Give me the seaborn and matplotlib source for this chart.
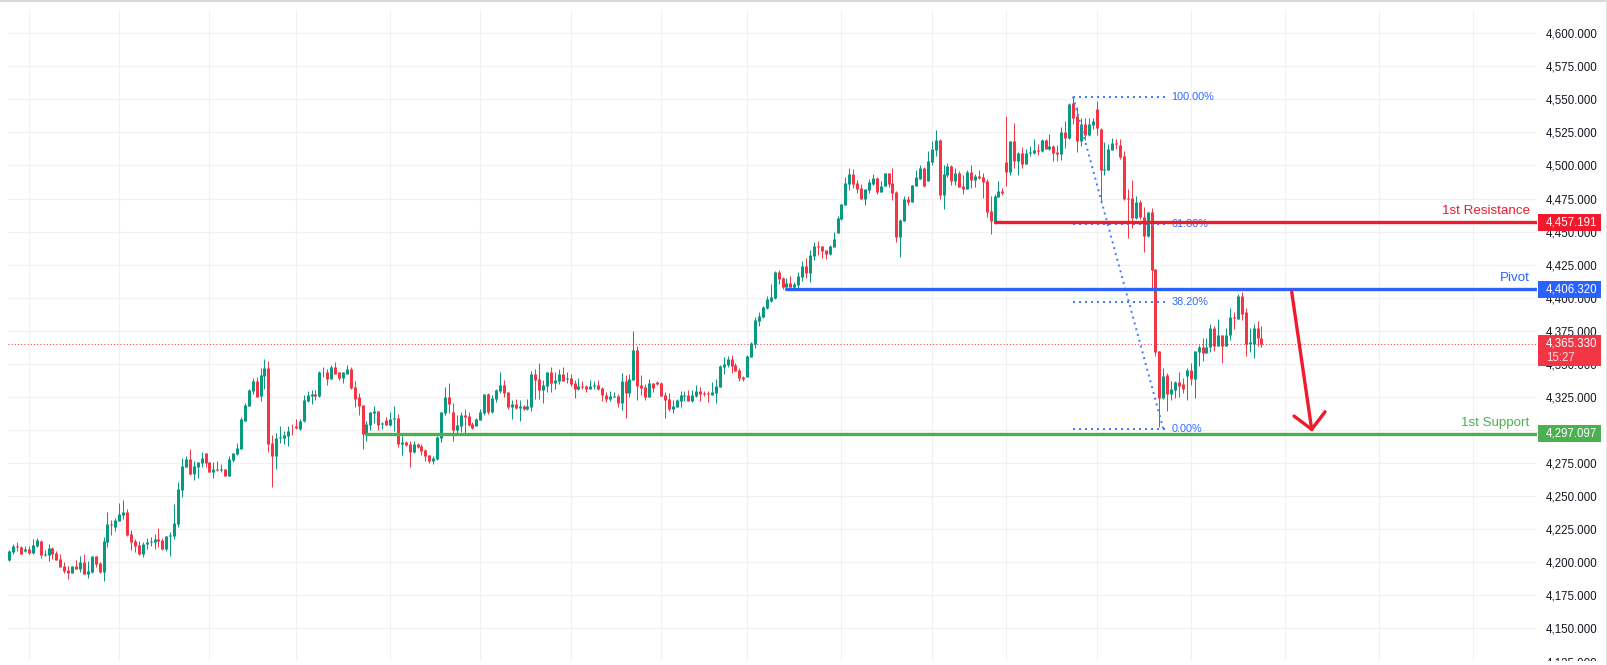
import matplotlib
matplotlib.use("Agg")
import matplotlib.pyplot as plt
import pandas as pd
import seaborn as sns
from matplotlib.patches import Rectangle
from matplotlib.ticker import FuncFormatter

sns.set_theme(style="white")
plt.rcParams["font.family"] = ["Liberation Sans", "DejaVu Sans"]

# ── Candles (G = up, R = down) ─────────────────────────────────────────────
directions = (
    "GGRRGRGGRG" "GRRRRRGRGR" "GGRRGGRGGG" "RRRRGGGGRR" "GGGGGGRGGG" "RRGRGRGGGG" "GGGRGGRRGG" "GGRRGGGGRG"
    "RRGRRGGRRR" "RGGGRGRGGR" "GRRGRRRRGG" "GGRRGGRRRG" "GGRGGGRRGR" "GRGGRRGGRG" "GRGRRGRRGG" "RRRGGRGRGG"
    "RRRGRRRRRG" "GGGRGGRRRG" "GGGGRRRRGG" "GGGGGGRRGR" "GGGRGGRRRG" "GGGGGRRRGG" "GRGGRRRGGR" "GGGRGGGRGG"
    "RGRRGRGRRR" "RGGRRGRGRG" "GGRGRGRRGR" "GRRGRGGRRG" "GGRRRRRGRR" "GRRRGRGGRR" "GRGGRGGRGR" "GGRGRRGGRR"
)

highs = [
    4209.5,4214.0,4215.5,4212.5,4212.5,4212.5,4217.8,4218.6,4217.0,4209.5,
    4214.0,4211.8,4208.7,4206.5,4200.4,4197.4,4197.4,4201.9,4205.0,4206.5,
    4201.2,4205.0,4205.0,4200.4,4219.3,4238.3,4232.2,4233.7,4245.1,4247.4,
    4240.5,4224.6,4217.8,4216.3,4215.5,4218.6,4219.3,4221.6,4226.1,4218.6,
    4220.1,4223.1,4244.3,4261.0,4279.2,4280.7,4286.0,4276.9,4276.1,4283.7,
    4283.0,4276.1,4276.1,4276.9,4274.6,4270.8,4280.7,4283.0,4290.5,4309.5,
    4320.1,4331.4,4339.0,4339.8,4346.6,4353.4,4351.9,4296.6,4298.1,4303.4,
    4299.6,4302.7,4304.2,4308.7,4308.0,4326.8,4329.8,4330.6,4330.6,4345.0,
    4348.0,4345.8,4349.5,4351.1,4344.2,4344.2,4349.5,4347.3,4337.4,4328.3,
    4319.2,4307.1,4313.9,4318.5,4314.7,4306.4,4310.1,4313.9,4318.5,4312.4,
    4295.8,4292.0,4292.0,4292.0,4290.5,4289.7,4285.9,4281.4,4280.6,4295.8,
    4313.9,4332.9,4335.9,4320.8,4311.7,4313.9,4316.2,4313.9,4306.4,4309.4,
    4316.2,4327.6,4328.3,4326.8,4331.4,4343.5,4338.2,4329.1,4323.0,4323.8,
    4323.0,4319.2,4323.8,4345.0,4346.5,4350.3,4338.2,4343.5,4347.3,4343.5,
    4346.5,4347.3,4343.5,4342.7,4338.2,4339.7,4337.4,4334.4,4338.2,4336.7,
    4338.2,4332.3,4328.6,4329.3,4328.6,4327.0,4342.9,4341.4,4342.2,4374.8,
    4363.4,4341.4,4334.6,4338.4,4335.4,4336.9,4336.1,4328.6,4327.8,4322.5,
    4323.3,4329.3,4329.3,4330.1,4330.1,4333.9,4332.3,4329.3,4329.3,4336.1,
    4338.4,4349.0,4355.1,4355.8,4356.6,4350.5,4346.7,4340.7,4356.6,4366.4,
    4385.4,4389.2,4393.7,4401.3,4410.4,4420.2,4421.0,4415.7,4414.9,4416.4,
    4411.9,4419.5,4427.8,4430.1,4436.1,4442.2,4442.9,4439.2,4436.1,4439.9,
    4449.8,4461.9,4471.0,4491.4,4498.2,4497.5,4489.2,4486.1,4482.3,4489.9,
    4493.7,4491.4,4488.4,4494.5,4494.5,4498.2,4480.8,4459.6,4477.0,4477.0,
    4485.4,4496.7,4500.5,4498.7,4510.8,4518.4,4526.7,4519.9,4500.2,4501.7,
    4500.2,4497.9,4495.7,4492.6,4496.4,4500.2,4493.4,4496.4,4494.2,4489.6,
    4476.7,4478.2,4488.1,4482.8,4537.3,4518.4,4532.0,4510.1,4513.8,4512.3,
    4514.6,4519.9,4516.1,4519.9,4519.9,4523.7,4515.4,4515.4,4529.1,4533.6,
    4547.3,4551.8,4544.2,4535.9,4535.9,4535.9,4535.9,4548.8,4528.3,4517.7,
    4516.2,4520.8,4520.0,4520.0,4510.9,4482.1,4488.9,4476.8,4473.8,4468.7,
    4465.1,4467.7,4421.5,4360.1,4347.2,4343.4,4337.4,4337.4,4344.2,4339.6,
    4347.2,4351.0,4360.1,4364.6,4369.2,4369.2,4379.8,4378.3,4383.6,4372.2,
    4377.5,4391.9,4389.6,4402.5,4404.0,4391.9,4377.5,4379.8,4382.1,4379.0,
]

body_tops = [
    4208.7,4212.5,4212.5,4211.8,4210.2,4210.2,4213.3,4217.0,4216.3,4206.5,
    4211.0,4211.0,4207.2,4202.7,4197.4,4194.3,4197.4,4197.4,4200.4,4200.4,
    4193.6,4205.0,4205.0,4199.6,4216.3,4229.2,4229.2,4232.2,4236.8,4238.3,
    4238.3,4221.6,4216.3,4213.3,4214.0,4215.5,4216.3,4217.8,4217.8,4217.0,
    4220.1,4220.8,4229.9,4255.7,4273.1,4278.4,4278.4,4273.1,4276.1,4279.2,
    4283.0,4276.1,4270.8,4270.8,4270.8,4270.8,4278.4,4283.0,4286.7,4308.0,
    4318.6,4329.9,4336.7,4336.7,4341.3,4346.6,4346.6,4290.5,4294.3,4295.1,
    4296.6,4298.9,4299.6,4302.7,4307.2,4323.0,4326.8,4327.6,4327.6,4344.2,
    4344.2,4344.2,4347.3,4347.3,4343.5,4343.5,4346.5,4346.5,4332.9,4324.6,
    4319.2,4304.8,4313.9,4314.7,4314.7,4305.6,4307.9,4308.6,4309.4,4309.4,
    4291.2,4291.2,4289.7,4289.7,4289.7,4288.2,4285.2,4281.4,4279.1,4295.0,
    4313.9,4325.3,4325.3,4313.9,4304.1,4311.7,4311.7,4310.9,4304.8,4308.6,
    4313.9,4327.6,4327.6,4324.5,4330.6,4334.4,4334.4,4329.1,4320.0,4320.0,
    4318.5,4318.5,4318.5,4342.7,4342.7,4338.9,4334.4,4343.5,4343.5,4338.2,
    4342.0,4342.0,4339.7,4339.7,4335.9,4333.6,4333.6,4333.6,4333.6,4334.4,
    4334.4,4331.6,4326.3,4325.5,4325.5,4325.5,4336.9,4336.9,4338.4,4360.4,
    4360.4,4333.9,4332.3,4335.4,4335.4,4336.1,4335.4,4326.3,4323.3,4317.9,
    4322.5,4326.3,4326.3,4326.3,4326.3,4329.3,4329.3,4327.8,4327.8,4328.6,
    4333.1,4348.2,4349.8,4353.6,4353.6,4349.0,4345.2,4339.9,4355.8,4365.7,
    4383.1,4386.1,4393.0,4399.0,4400.5,4419.5,4419.5,4414.9,4411.1,4411.1,
    4410.4,4416.4,4424.0,4424.0,4432.3,4439.2,4439.2,4439.2,4436.1,4439.2,
    4444.5,4460.4,4471.0,4486.9,4493.7,4493.7,4486.9,4483.1,4482.3,4487.6,
    4490.7,4490.7,4484.6,4494.5,4494.5,4486.9,4480.1,4458.9,4474.8,4474.8,
    4485.4,4491.4,4498.2,4497.9,4503.2,4512.3,4519.2,4519.2,4493.4,4499.5,
    4499.5,4494.2,4494.2,4484.3,4494.9,4494.9,4491.9,4491.9,4491.1,4488.1,
    4465.4,4476.7,4480.5,4480.5,4502.5,4518.4,4518.4,4509.3,4509.3,4509.3,
    4510.1,4511.6,4511.6,4519.2,4519.2,4514.6,4514.6,4510.1,4525.3,4525.3,
    4546.5,4547.3,4537.4,4531.4,4531.4,4531.4,4533.6,4542.7,4527.6,4497.3,
    4512.4,4517.0,4517.0,4515.5,4507.1,4475.3,4475.3,4472.3,4472.3,4461.1,
    4464.6,4464.6,4421.5,4360.1,4341.2,4341.9,4331.3,4336.6,4336.6,4335.1,
    4345.7,4345.7,4360.1,4362.4,4362.4,4363.1,4377.5,4377.5,4372.2,4372.2,
    4372.2,4385.1,4385.1,4401.0,4401.0,4388.9,4366.2,4377.5,4377.5,4369.9,
]

body_bottoms = [
    4201.9,4208.0,4211.8,4206.5,4208.7,4207.2,4207.2,4212.5,4205.7,4205.7,
    4205.7,4206.5,4201.9,4196.6,4193.6,4192.1,4192.1,4195.1,4195.1,4191.3,
    4191.3,4192.8,4198.9,4192.8,4192.8,4215.5,4228.4,4226.9,4231.4,4236.0,
    4220.8,4215.5,4212.5,4206.5,4206.5,4214.0,4215.5,4215.5,4216.3,4210.2,
    4210.2,4220.1,4220.1,4229.2,4254.9,4272.4,4267.0,4267.0,4272.4,4275.4,
    4275.4,4268.6,4268.6,4270.1,4270.1,4265.5,4265.5,4277.7,4282.2,4286.0,
    4307.2,4317.8,4329.2,4324.6,4325.4,4340.5,4289.8,4280.7,4280.7,4294.3,
    4294.3,4295.8,4298.9,4301.9,4301.1,4307.1,4322.3,4326.1,4326.1,4326.1,
    4343.5,4338.9,4338.9,4342.7,4339.7,4339.7,4342.7,4332.1,4323.8,4318.5,
    4297.3,4297.3,4304.1,4313.2,4304.1,4304.8,4304.1,4304.1,4308.6,4289.7,
    4289.7,4289.0,4283.6,4283.6,4287.4,4284.4,4280.6,4276.8,4276.8,4278.3,
    4294.2,4313.2,4320.0,4300.3,4300.3,4303.3,4310.1,4304.1,4301.8,4303.3,
    4307.9,4313.2,4313.9,4313.9,4323.8,4329.8,4328.3,4317.7,4317.7,4317.0,
    4317.0,4316.2,4316.2,4317.7,4338.2,4330.6,4330.6,4333.6,4335.9,4335.9,
    4337.4,4337.4,4338.9,4335.1,4331.4,4331.4,4332.9,4331.4,4331.4,4333.6,
    4331.4,4326.3,4323.3,4323.3,4324.8,4320.2,4320.2,4327.8,4327.8,4337.6,
    4333.1,4331.6,4324.8,4324.8,4331.6,4334.6,4325.5,4322.5,4315.7,4315.7,
    4317.2,4321.7,4325.5,4321.7,4321.7,4325.5,4327.0,4327.0,4327.0,4326.3,
    4327.8,4332.3,4347.5,4349.0,4348.2,4344.5,4339.2,4338.4,4339.9,4355.1,
    4364.9,4382.3,4385.4,4392.2,4397.5,4399.8,4414.2,4408.1,4408.1,4408.1,
    4408.1,4409.6,4415.7,4418.7,4418.7,4431.6,4438.4,4435.4,4433.1,4433.1,
    4438.4,4449.0,4459.6,4470.2,4486.1,4486.1,4482.3,4474.8,4474.8,4481.6,
    4486.1,4480.1,4480.1,4484.6,4486.1,4479.3,4446.0,4446.0,4458.1,4472.5,
    4472.5,4484.6,4489.9,4484.3,4488.1,4502.5,4511.6,4477.5,4477.5,4492.6,
    4488.1,4488.1,4483.5,4482.0,4482.0,4488.9,4488.9,4490.4,4487.3,4464.6,
    4457.8,4456.3,4476.0,4479.0,4494.9,4494.9,4503.2,4503.2,4501.0,4501.0,
    4509.3,4509.3,4510.8,4510.8,4512.3,4512.3,4509.3,4508.5,4508.6,4520.8,
    4520.8,4535.9,4518.5,4518.5,4523.0,4523.0,4530.6,4528.3,4496.5,4496.5,
    4496.5,4511.7,4516.2,4506.4,4474.5,4474.5,4460.2,4460.2,4460.9,4447.0,
    4446.5,4420.7,4359.3,4324.5,4324.5,4327.5,4327.5,4330.6,4333.6,4331.3,
    4341.2,4338.9,4338.9,4359.3,4358.6,4358.6,4363.1,4363.9,4363.9,4363.9,
    4363.9,4371.5,4384.8,4383.6,4387.4,4365.4,4365.4,4365.4,4369.2,4365.4,
]

lows = [
    4201.2,4206.5,4208.7,4206.5,4208.0,4206.5,4206.5,4211.8,4203.4,4205.0,
    4201.2,4202.7,4201.9,4196.6,4192.1,4187.5,4192.1,4195.1,4192.8,4191.3,
    4188.3,4192.1,4196.6,4192.1,4186.0,4211.8,4220.8,4223.9,4231.4,4233.0,
    4220.1,4209.5,4208.0,4205.7,4204.2,4210.2,4212.5,4210.2,4211.8,4209.5,
    4208.7,4205.0,4217.8,4226.9,4249.6,4272.4,4266.3,4262.5,4264.0,4272.4,
    4272.4,4268.6,4264.0,4269.3,4268.6,4265.5,4265.5,4276.1,4281.4,4286.0,
    4307.2,4317.8,4326.9,4324.6,4321.6,4330.7,4283.7,4257.2,4270.8,4290.5,
    4289.8,4288.3,4296.6,4301.1,4300.4,4306.4,4321.5,4320.0,4323.0,4325.3,
    4340.4,4334.4,4338.9,4342.7,4338.2,4335.9,4342.7,4331.4,4317.7,4311.7,
    4285.9,4292.0,4300.3,4305.6,4300.3,4301.1,4304.1,4303.3,4299.5,4287.4,
    4281.4,4288.2,4272.3,4282.9,4286.7,4281.4,4276.8,4275.3,4274.5,4277.6,
    4291.2,4311.7,4313.2,4292.0,4298.0,4298.8,4297.3,4303.3,4301.1,4303.3,
    4307.9,4311.7,4312.4,4313.2,4321.5,4328.3,4325.3,4316.2,4308.6,4316.2,
    4307.1,4315.4,4315.4,4314.7,4323.8,4323.8,4320.8,4329.1,4329.1,4331.4,
    4335.1,4337.4,4335.9,4333.6,4324.5,4330.6,4331.4,4329.1,4331.4,4331.4,
    4330.6,4321.7,4321.0,4321.7,4324.8,4317.2,4314.9,4308.9,4324.8,4337.6,
    4322.5,4326.3,4322.5,4324.8,4328.6,4333.9,4325.5,4308.9,4314.2,4312.6,
    4317.2,4317.2,4321.7,4321.7,4321.0,4324.8,4321.7,4325.5,4321.0,4326.3,
    4320.2,4332.3,4342.2,4347.5,4342.9,4344.5,4336.9,4336.9,4339.9,4355.1,
    4361.9,4378.6,4384.6,4391.4,4396.7,4399.0,4410.4,4406.6,4405.8,4406.6,
    4406.6,4406.6,4412.6,4414.9,4411.9,4428.6,4432.3,4430.1,4429.3,4432.3,
    4438.4,4449.0,4458.9,4470.2,4481.6,4483.1,4479.3,4474.8,4470.2,4479.3,
    4485.4,4478.5,4480.1,4484.6,4483.8,4474.0,4442.2,4430.8,4458.1,4470.2,
    4472.5,4484.6,4489.9,4483.5,4488.1,4500.2,4507.0,4474.5,4466.9,4491.1,
    4485.1,4485.1,4483.5,4478.2,4482.0,4482.8,4483.5,4489.6,4475.2,4460.8,
    4447.9,4455.5,4476.0,4477.5,4484.3,4492.6,4497.9,4492.6,4497.9,4501.0,
    4507.0,4508.5,4507.8,4510.1,4512.3,4511.6,4503.2,4503.2,4504.1,4513.2,
    4520.0,4531.4,4510.2,4514.7,4519.2,4522.3,4527.6,4523.0,4471.5,4492.7,
    4496.5,4511.7,4512.4,4504.8,4473.8,4445.0,4452.6,4459.4,4459.4,4434.3,
    4445.9,4406.6,4356.3,4302.5,4323.7,4314.6,4323.0,4324.5,4325.3,4328.3,
    4323.0,4334.3,4324.5,4348.7,4352.5,4358.6,4359.3,4360.1,4363.9,4350.3,
    4363.9,4367.7,4376.0,4383.6,4382.8,4355.6,4359.3,4354.8,4363.9,4362.4,
]

# ── Annotations ────────────────────────────────────────────────────────────
price_ticks = list(range(4125, 4601, 25))
time_grid = [5, 28, 51, 73, 97, 120, 143, 166, 188, 212, 235, 254, 277, 301, 325, 349, 373]

last_price = 4365.33
countdown = "15:27"

level_names = ["1st Resistance", "Pivot", "1st Support"]
level_prices = [4457.191, 4406.320, 4297.097]
level_starts = [251, 198, 91]
level_colors = ["#F01A2C", "#2962FF", "#4CAF50"]

fib_labels = ["100.00%", "61.80%", "38.20%", "0.00%"]
fib_prices = [4552.0, 4456.1, 4396.9, 4301.0]
fib_start, fib_end = 271, 294

arrow_x = [326.7, 331.8]
arrow_y = [4404.6, 4300.5]
arrow_head_x = [327.3, 331.8, 335.2]
arrow_head_y = [4310.6, 4300.5, 4313.8]

candles = pd.DataFrame({"high": highs, "top": body_tops, "bottom": body_bottoms, "low": lows,
                        "dir": list(directions)})
candles["color"] = candles["dir"].map({"G": "#089981", "R": "#F23645"})

# ── Figure ─────────────────────────────────────────────────────────────────
W, H = 1607, 665
fig = plt.figure(figsize=(W / 100, H / 100), dpi=100, facecolor="white")
ax = fig.add_axes([8 / W, 0, 1529 / W, 655 / H])

# thick butt-capped vlines keep every body the same 3 px on the pixel grid
ax.vlines(candles.index, candles["low"], candles["high"], colors=candles["color"], linewidth=0.72,
          capstyle="butt", snap=True, zorder=2)
ax.vlines(candles.index, candles["bottom"], candles["top"], colors=candles["color"], linewidth=2.16,
          capstyle="butt", snap=True, zorder=2.1)

x_right = 389.2
ax.axhline(last_price, color="#F23645", linewidth=0.72, linestyle=(0, (1, 2.2)), zorder=1.8)

# fib retracement
fib_dots = dict(color="#3F7EFF", linewidth=1.44, linestyle=(0, (1, 2)), legend=False, ax=ax, zorder=3.2,
                sort=False, estimator=None)
for price in fib_prices:
    sns.lineplot(x=[fib_start, fib_end + 0.6], y=[price, price], **fib_dots)
sns.lineplot(x=[fib_start, fib_end], y=[fib_prices[0], fib_prices[-1]], **fib_dots)
for label, price in zip(fib_labels, fib_prices):
    ax.text(fib_end + 2.1, price, label, color="#2F6BFF", fontsize=7.8, va="center", ha="left", zorder=3.3)

# support / resistance levels
for name, price, start, color in zip(level_names, level_prices, level_starts, level_colors):
    sns.lineplot(x=[start, x_right], y=[price, price], color=color, linewidth=2.4, legend=False, ax=ax, zorder=3.5)
    ax.text(0.9952, price + 8.6, name, color=color, fontsize=9.6, ha="right", va="center",
            transform=ax.get_yaxis_transform(), zorder=3.6)
    ax.add_patch(Rectangle((1.0007, price - 6.4), 0.0412, 12.8, transform=ax.get_yaxis_transform(),
                           facecolor=color, edgecolor="none", clip_on=False, zorder=5))
    ax.text(1.0059, price, f"{price:,.3f}", color="white", fontsize=8.3, va="center", ha="left",
            transform=ax.get_yaxis_transform(), zorder=6)

# last price tag
ax.add_patch(Rectangle((1.0007, 4348.6), 0.0412, 23.2, transform=ax.get_yaxis_transform(),
                       facecolor="#F23645", edgecolor="none", clip_on=False, zorder=5))
ax.text(1.0059, last_price, f"{last_price:,.3f}", color="white", fontsize=8.3, va="center", ha="left",
        transform=ax.get_yaxis_transform(), zorder=6)
ax.text(1.0059, 4354.7, countdown, color="#FFD9DC", fontsize=8.3, va="center", ha="left",
        transform=ax.get_yaxis_transform(), zorder=6)

# hand-drawn arrow
sns.lineplot(x=arrow_x, y=arrow_y, color="#F01A2C", linewidth=2.4, legend=False, ax=ax, zorder=3.7,
             sort=False, estimator=None)
sns.lineplot(x=arrow_head_x, y=arrow_head_y, color="#F01A2C", linewidth=2.4, legend=False, ax=ax, zorder=3.7,
             sort=False, estimator=None)

# axes
ax.set_xlim(-0.33, x_right)
ax.set_ylim(4122.4, 4617.5)
ax.set_xlabel("")
ax.set_ylabel("")
ax.set_xticks(time_grid)
ax.set_xticklabels([])
ax.set_yticks(price_ticks)
ax.yaxis.tick_right()
ax.yaxis.set_major_formatter(FuncFormatter(lambda v, _: f"{v:,.3f}"))
ax.tick_params(axis="y", length=0, pad=6.4, labelsize=8.3, labelcolor="#131722")
ax.tick_params(axis="x", length=0)
ax.grid(True, color="#F1F1F3", linewidth=0.8)
ax.set_axisbelow(True)
sns.despine(ax=ax, left=True, bottom=True, right=True, top=True)

# window edges of the screenshot
fig.add_artist(Rectangle((0, 0), 1, 4 / H, transform=fig.transFigure, facecolor="white", edgecolor="none", zorder=10))
fig.add_artist(Rectangle((0, 1 - 2 / H), 1, 2 / H, transform=fig.transFigure, facecolor="#D8D8D8", edgecolor="none", zorder=10))
fig.add_artist(Rectangle((1 - 1.5 / W, 0), 1.5 / W, 1, transform=fig.transFigure, facecolor="#E4E4E4", edgecolor="none", zorder=10))

fig.savefig("out.png", dpi=100)
